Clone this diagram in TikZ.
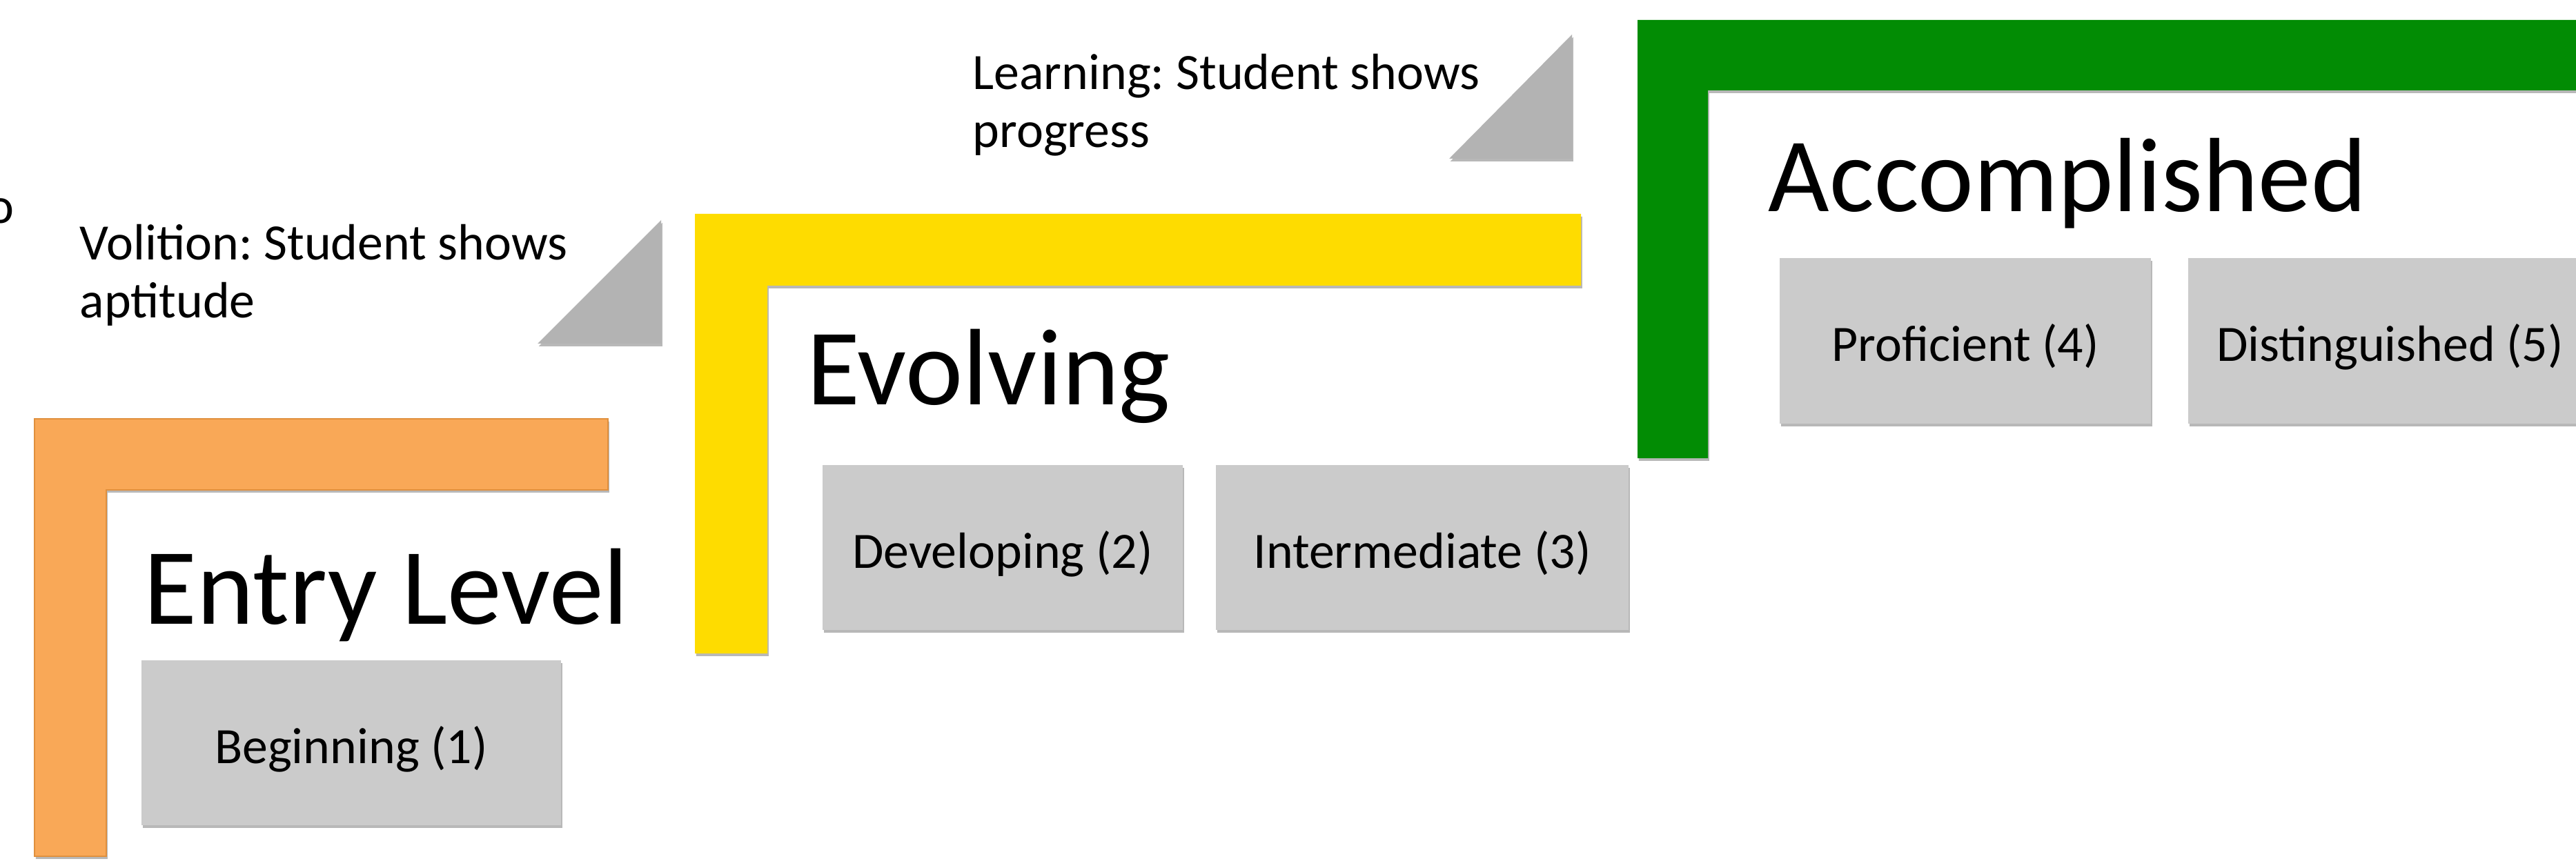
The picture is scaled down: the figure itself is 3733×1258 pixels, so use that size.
\documentclass[tikz,border=0pt]{standalone}
\usepackage{fontspec}
\setmainfont[Ligatures=Common]{Carlito}
\frenchspacing
\usetikzlibrary{shadows}

\definecolor{entryorange}{HTML}{F9A857}
\definecolor{entryedge}{HTML}{E0903E}
\definecolor{evolveyellow}{HTML}{FEDC00}
\definecolor{accgreen}{HTML}{028C04}
\definecolor{levelgray}{HTML}{CBCBCB}
\definecolor{wedgegray}{HTML}{B3B3B3}

\tikzset{
  softshadow/.style={drop shadow={shadow xshift=0.5pt, shadow yshift=-1.1pt,
      opacity=0.28, fill=black}},
  smalltext/.style={font=\fontsize{21pt}{23.9pt}\selectfont},
  bigtext/.style={font=\fontsize{44.8pt}{53pt}\selectfont},
  levelbox/.style={smalltext, fill=levelgray, softshadow, inner sep=0pt,
      text height=0.59cm, text depth=0pt, minimum height=2.39cm},
  stair/.style={softshadow},
  wedge/.style={fill=wedgegray, softshadow},
  caption/.style={smalltext, inner sep=0pt, anchor=base west, align=left},
  title/.style={bigtext, inner sep=0pt, anchor=base west},
}

\begin{document}
\begin{tikzpicture}[x=0.01cm, y=-0.01cm]
  \clip (0,0) rectangle (3733,1258);
  \useasboundingbox (0,0) rectangle (3733,1258);

  % L-shaped stairs
  \fill[entryorange, draw=entryedge, line width=0.5pt, stair]
    (50,607) -- (881,607) -- (881,710) -- (154,710) -- (154,1241) -- (50,1241) -- cycle;
  \fill[evolveyellow, stair]
    (1007,310) -- (2291,310) -- (2291,414) -- (1112,414) -- (1112,947) -- (1007,947) -- cycle;
  \fill[accgreen, stair]
    (2373,29) -- (3800,29) -- (3800,131) -- (2475,131) -- (2475,664) -- (2373,664) -- cycle;

  % grey wedges between the stairs
  \fill[wedge] (958,319) -- (958,498) -- (779,498) -- cycle;
  \fill[wedge] (2278,50) -- (2278,230) -- (2100,230) -- cycle;

  % stray glyph at the left edge
  \node[smalltext, inner sep=0pt, anchor=base east] (edgeo) at (21,324) {o};

  % captions (anchored at the baseline of their last line)
  \node[caption] (volition) at (115,461) {Volition: Student shows\\aptitude};
  \node[caption] (learning) at (1409,214) {Learning: Student shows\\progress};

  % level titles
  \node[title] (entry) at (208,904) {Entry Level};
  \node[title] (evolving) at (1169,586) {Evolving};
  \node[title, font=\fontsize{43.5pt}{52pt}\selectfont] (accomplished) at (2562,307) {Accomplished};

  % rating boxes
  \node[levelbox, minimum width=6.08cm] (beginning) at (509,1076.5) {Beginning (1)};
  \node[levelbox, minimum width=5.22cm] (developing) at (1453,793.5) {Developing (2)};
  \node[levelbox, minimum width=5.98cm] (intermediate) at (2061,793.5) {Intermediate (3)};
  \node[levelbox, minimum width=5.38cm, minimum height=2.40cm] (proficient) at (2848,494) {Proficient (4)};
  \node[levelbox, minimum width=5.85cm, minimum height=2.40cm] (distinguished) at (3463.5,494) {Distinguished (5)};
\end{tikzpicture}
\end{document}
